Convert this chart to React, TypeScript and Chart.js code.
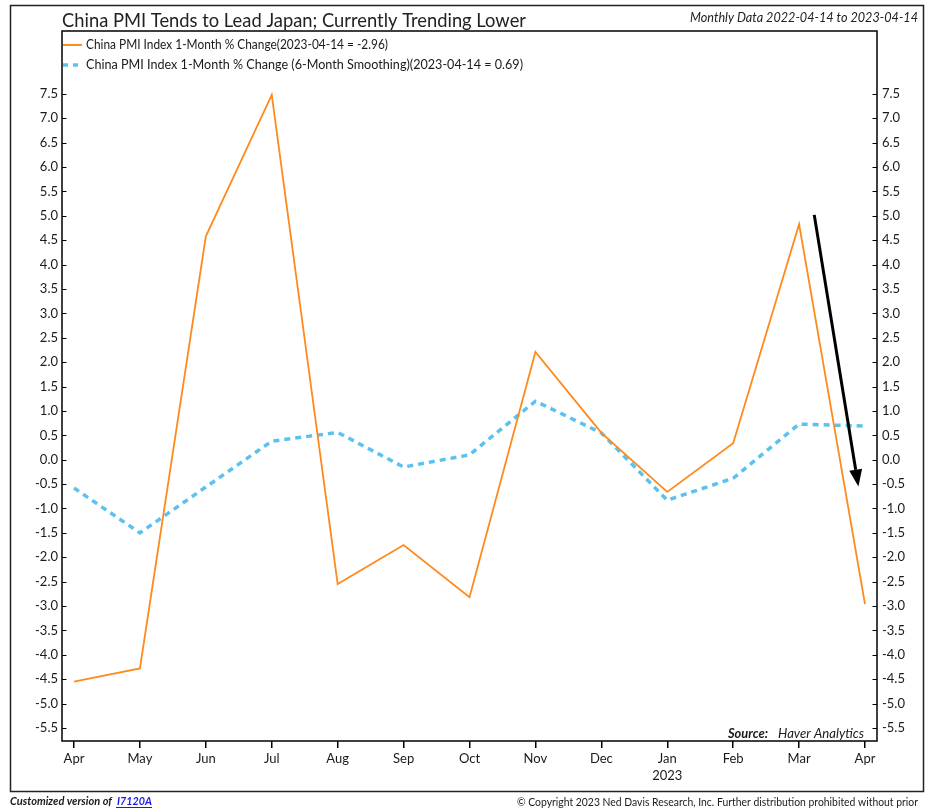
import React, { useEffect, useRef } from "react";
import { Chart, registerables } from "chart.js";

Chart.register(...registerables);

const monthLabels = ["Apr", "May", "Jun", "Jul", "Aug", "Sep", "Oct", "Nov", "Dec", "Jan", "Feb", "Mar", "Apr"];
const yearLabels = ["", "", "", "", "", "", "", "", "", "2023", "", "", ""];
const pmiChange = [-4.55, -4.28, 4.58, 7.48, -2.55, -1.75, -2.82, 2.21, 0.55, -0.66, 0.34, 4.83, -2.96];
const pmiSmoothed = [-0.58, -1.5, -0.56, 0.38, 0.56, -0.15, 0.1, 1.2, 0.55, -0.83, -0.38, 0.73, 0.69];
const yTickValues = [-5.5, -5.0, -4.5, -4.0, -3.5, -3.0, -2.5, -2.0, -1.5, -1.0, -0.5, 0.0, 0.5, 1.0, 1.5, 2.0, 2.5, 3.0, 3.5, 4.0, 4.5, 5.0, 5.5, 6.0, 6.5, 7.0, 7.5];
const arrowStart = [11.23, 5.02];
const arrowEnd = [11.9, -0.55];

const titleText = "China PMI Tends to Lead Japan; Currently Trending Lower";
const subtitleText = "Monthly Data 2022-04-14 to 2023-04-14";
const legendText1 = "China PMI Index 1-Month % Change(2023-04-14 = -2.96)";
const legendText2 = "China PMI Index 1-Month % Change (6-Month Smoothing)(2023-04-14 = 0.69)";

const ORANGE = "#FF8A1C";
const BLUE = "#5BC2F0";
const TEXT = "#1a1a1a";
const FONT = "Lato, 'Open Sans', sans-serif";

function fitText(ctx: CanvasRenderingContext2D, text: string, x: number, y: number, width: number, font: string, color: string, align: CanvasTextAlign = "left") {
  ctx.save();
  ctx.font = font;
  const w = ctx.measureText(text).width;
  const s = width / w;
  ctx.translate(x, y);
  ctx.scale(s, 1);
  ctx.textAlign = align;
  ctx.textBaseline = "alphabetic";
  ctx.fillStyle = color;
  ctx.fillText(text, 0, 0);
  ctx.restore();
}

const decorPlugin = {
  id: "decor",
  beforeDraw(chart: any) {
    const ctx = chart.ctx;
    ctx.save();
    ctx.fillStyle = "#fff";
    ctx.fillRect(0, 0, chart.width, chart.height);
    ctx.restore();
  },
  afterDraw(chart: any) {
    const ctx: CanvasRenderingContext2D = chart.ctx;
    const a = chart.chartArea;
    const ys = chart.scales.y;
    const xs = chart.scales.x;
    ctx.save();
    // outer border
    ctx.strokeStyle = "#222";
    ctx.lineWidth = 1.5;
    ctx.strokeRect(10.5, 5.5, 913, 786);
    // plot frame
    ctx.strokeStyle = "#000";
    ctx.lineWidth = 1.5;
    ctx.strokeRect(a.left, a.top, a.right - a.left, a.bottom - a.top);
    // inward y ticks
    ctx.lineWidth = 1.2;
    ctx.beginPath();
    for (const v of yTickValues) {
      const py = Math.round(ys.getPixelForValue(v)) + 0.5;
      ctx.moveTo(a.left, py);
      ctx.lineTo(a.left + 4.5, py);
      ctx.moveTo(a.right - 4.5, py);
      ctx.lineTo(a.right, py);
    }
    ctx.stroke();

    // title & subtitle
    fitText(ctx, titleText, 62, 27, 464, `20px ${FONT}`, "#222");
    fitText(ctx, subtitleText, 918, 22, 228, `italic 13px ${FONT}`, "#222", "right");

    // legend
    ctx.strokeStyle = ORANGE;
    ctx.lineWidth = 2;
    ctx.beginPath();
    ctx.moveTo(63, 45);
    ctx.lineTo(82, 45);
    ctx.stroke();
    ctx.strokeStyle = BLUE;
    ctx.lineWidth = 3.5;
    ctx.setLineDash([5, 5]);
    ctx.beginPath();
    ctx.moveTo(63, 65);
    ctx.lineTo(80, 65);
    ctx.stroke();
    ctx.setLineDash([]);
    fitText(ctx, legendText1, 86, 49, 302, `12.5px ${FONT}`, TEXT);
    fitText(ctx, legendText2, 86, 69, 437, `12.5px ${FONT}`, TEXT);

    // source
    fitText(ctx, "Source:", 728, 738, 40, `italic bold 13px ${FONT}`, TEXT);
    fitText(ctx, "Haver Analytics", 778, 738, 86, `italic 13px ${FONT}`, TEXT);

    // footer
    fitText(ctx, "Customized version of", 10, 805, 102, `italic bold 12px ${FONT}`, TEXT);
    fitText(ctx, "I7120A", 117, 805, 35, `italic bold 12px ${FONT}`, "#1a1aee");
    ctx.strokeStyle = "#1a1aee";
    ctx.lineWidth = 1;
    ctx.beginPath();
    ctx.moveTo(116, 807.5);
    ctx.lineTo(152, 807.5);
    ctx.stroke();
    fitText(ctx, "\u00a9 Copyright 2023 Ned Davis Research, Inc. Further distribution prohibited without prior", 918, 806, 401, `12px ${FONT}`, TEXT, "right");

    // arrow
    const x1 = xs.getPixelForValue(arrowStart[0]);
    const y1 = ys.getPixelForValue(arrowStart[1]);
    const x2 = xs.getPixelForValue(arrowEnd[0]);
    const y2 = ys.getPixelForValue(arrowEnd[1]);
    const ang = Math.atan2(y2 - y1, x2 - x1);
    const headLen = 17;
    const headW = 6.5;
    const bx = x2 - headLen * Math.cos(ang);
    const by = y2 - headLen * Math.sin(ang);
    ctx.strokeStyle = "#000";
    ctx.fillStyle = "#000";
    ctx.lineWidth = 3;
    ctx.beginPath();
    ctx.moveTo(x1, y1);
    ctx.lineTo(bx, by);
    ctx.stroke();
    ctx.beginPath();
    ctx.moveTo(x2, y2);
    ctx.lineTo(bx + headW * Math.sin(ang), by - headW * Math.cos(ang));
    ctx.lineTo(bx - headW * Math.sin(ang), by + headW * Math.cos(ang));
    ctx.closePath();
    ctx.fill();
    ctx.restore();
  },
};

const Y_MIN = -5.767;
const Y_MAX = 8.79;

export default function App() {
  const canvasRef = useRef<HTMLCanvasElement>(null);
  useEffect(() => {
    if (!canvasRef.current) return;
    const yTickCfg = {
      font: { family: FONT, size: 13 },
      color: TEXT,
      callback: (v: any) => Number(v).toFixed(1),
    };
    const chart = new Chart(canvasRef.current, {
      type: "line",
      data: {
        datasets: [
          {
            label: legendText1,
            data: pmiChange.map((v, i) => ({ x: i, y: v })),
            borderColor: ORANGE,
            borderWidth: 1.8,
            pointRadius: 0,
            tension: 0,
            fill: false,
            yAxisID: "y",
          },
          {
            label: legendText2,
            data: pmiSmoothed.map((v, i) => ({ x: i, y: v })),
            borderColor: BLUE,
            borderWidth: 3.5,
            borderDash: [6, 5],
            pointRadius: 0,
            tension: 0,
            fill: false,
            yAxisID: "y",
          },
        ],
      },
      options: {
        animation: false,
        responsive: false,
        maintainAspectRatio: false,
        layout: { padding: { top: 31, left: 0, right: 0, bottom: 0 } },
        plugins: { legend: { display: false }, tooltip: { enabled: false }, title: { display: false } },
        scales: {
          x: {
            type: "linear",
            min: -0.182,
            max: 12.182,
            afterBuildTicks: (s: any) => {
              s.ticks = monthLabels.map((_, i) => ({ value: i }));
            },
            afterFit: (s: any) => {
              s.height = 69;
            },
            grid: { display: true, drawOnChartArea: false, drawTicks: true, tickLength: 7, color: "#000", lineWidth: 1.5 },
            border: { display: false },
            ticks: {
              autoSkip: false,
              maxRotation: 0,
              padding: 2,
              font: { family: FONT, size: 13, lineHeight: 1.3 },
              color: TEXT,
              callback: (v: any) => {
                const i = Math.round(Number(v));
                return yearLabels[i] ? [monthLabels[i], yearLabels[i]] : monthLabels[i];
              },
            },
          },
          y: {
            type: "linear",
            position: "left",
            min: Y_MIN,
            max: Y_MAX,
            afterBuildTicks: (s: any) => {
              s.ticks = yTickValues.map((v) => ({ value: v }));
            },
            afterFit: (s: any) => {
              s.width = 62;
            },
            grid: { display: false, drawTicks: false },
            border: { display: false },
            ticks: { ...yTickCfg, padding: 4, autoSkip: false },
          },
          y2: {
            type: "linear",
            position: "right",
            min: Y_MIN,
            max: Y_MAX,
            afterBuildTicks: (s: any) => {
              s.ticks = yTickValues.map((v) => ({ value: v }));
            },
            afterFit: (s: any) => {
              s.width = 53;
            },
            grid: { display: false, drawTicks: false },
            border: { display: false },
            ticks: { ...yTickCfg, padding: 5, autoSkip: false },
          },
        },
      },
      plugins: [decorPlugin],
    } as any);
    return () => chart.destroy();
  }, []);
  return (
    <div style={{ position: "absolute", left: 0, top: 0, width: 930, height: 810, background: "#fff" }}>
      <canvas ref={canvasRef} width={930} height={810} style={{ display: "block" }} />
    </div>
  );
}
